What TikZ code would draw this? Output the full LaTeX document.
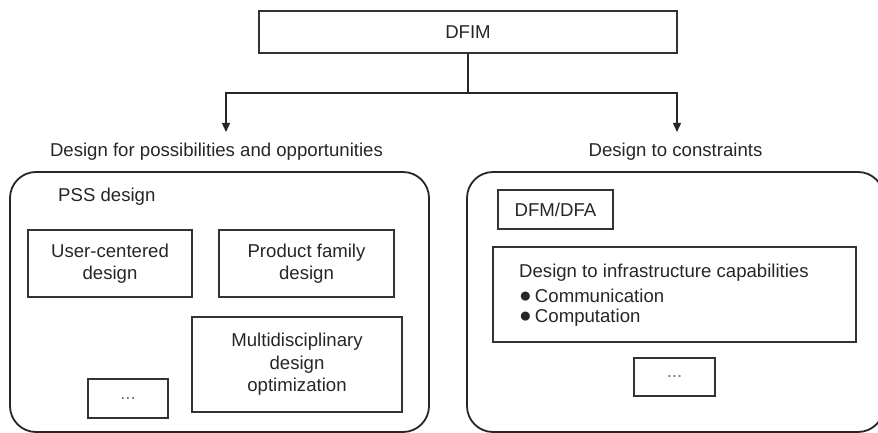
\documentclass[tikz,border=0pt]{standalone}
\usepackage{fontspec}
\setmainfont{Liberation Sans}
\usetikzlibrary{arrows.meta}
\begin{document}
\begin{tikzpicture}[x=1pt,y=-1pt,
  every node/.style={font=\fontsize{18.6}{22.5}\selectfont, text=black!85, inner sep=0pt},
  box/.style={draw=black!80, line width=1.2pt, align=center},
  panel/.style={draw=black!85, line width=1.8pt, rounded corners=26pt},
  conn/.style={draw=black!85, line width=1.3pt},
  dotsbox/.style={box, text=black!55}]
  \useasboundingbox (0,0) rectangle (878,433);

  % root
  \node[box, minimum width=418pt, minimum height=42pt] (dfim) at (468,32) {DFIM};
  \coordinate (split) at (468,93);
  \coordinate (lbend) at (226,93);
  \coordinate (rbend) at (677,93);
  \coordinate (ltip) at (226,132);
  \coordinate (rtip) at (677,132);

  % branch labels
  \node (lpos) at (216.5,152) {Design for possibilities and opportunities};
  \node (rcon) at (675.5,152) {Design to constraints};

  % connectors
  \draw[conn] (dfim.south) -- (split);
  \draw[conn, -{Triangle[length=9pt,width=8pt]}] (split) -- (lbend) -- (ltip);
  \draw[conn, -{Triangle[length=9pt,width=8pt]}] (split) -- (rbend) -- (rtip);

  % outer panels
  \draw[panel] (10,172) rectangle (429,432);
  \draw[panel] (467,172) rectangle (884,432);

  % left panel contents
  \node[anchor=west] (pss) at (58,197) {PSS design};
  \node[box, minimum width=164pt, minimum height=67pt] (ucd) at (110,263.5) {User-centered\\design};
  \node[box, minimum width=175pt, minimum height=67pt] (pfd) at (306.5,263.5) {Product family\\design};
  \node[box, minimum width=210pt, minimum height=95pt] (mdo) at (297,364.5) {Multidisciplinary\\design\\optimization};
  \node[dotsbox, minimum width=80pt, minimum height=39pt] (lmore) at (128,398.5) {...};

  % right panel contents
  \node[box, minimum width=115pt, minimum height=39pt] (dfm) at (555.5,209.5) {DFM/DFA};
  \node[box, minimum width=363pt, minimum height=95pt] (infra) at (674.5,294.5) {};
  \node[anchor=west] (infrat) at (519,273) {Design to infrastructure capabilities};
  \node[anchor=west] (comm) at (519,296) {{\fontsize{21}{22}\selectfont ●}\,Communication};
  \node[anchor=west] (comp) at (519,318) {{\fontsize{21}{22}\selectfont ●}\,Computation};
  \node[dotsbox, minimum width=81pt, minimum height=38pt] (rmore) at (674.5,377) {...};
\end{tikzpicture}
\end{document}
